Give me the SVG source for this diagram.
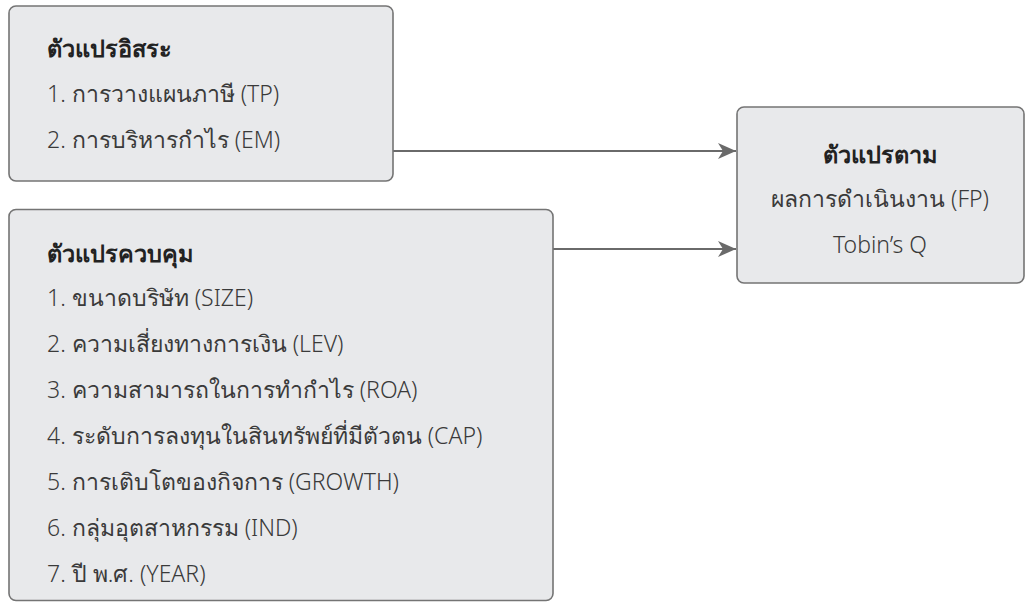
<svg xmlns="http://www.w3.org/2000/svg" width="1033" height="607" viewBox="0 0 1033 607">
<style>
.box{fill:#e8e9eb;stroke:#747474;stroke-width:1.6}
.t{font-family:"Noto Sans","DejaVu Sans",sans-serif;font-size:23px;font-weight:300;fill:#3a3a3a}
.h{font-weight:bold;font-size:23.5px;fill:#222}
.c{text-anchor:middle}
.ln{stroke:#6a6a6a;stroke-width:2;fill:none}
</style>
<defs>
<marker id="ah" viewBox="0 0 18 16" refX="18" refY="8" markerWidth="18" markerHeight="16" markerUnits="userSpaceOnUse" orient="auto">
<path d="M0,0 L18,8 L0,16 L5,8 Z" fill="#6a6a6a"/>
</marker>
</defs>
<g id="connectors">
<line class="ln" x1="393" y1="151" x2="736" y2="151" marker-end="url(#ah)"/>
<line class="ln" x1="553" y1="249" x2="736" y2="249" marker-end="url(#ah)"/>
</g>
<g id="independent">
<rect class="box" x="9" y="6" width="384" height="175" rx="7"/>
<text class="t h" x="47" y="57">ตัวแปรอิสระ</text>
<text class="t" x="47" y="102">1. การวางแผนภาษี (TP)</text>
<text class="t" x="47" y="148">2. การบริหารกำไร (EM)</text>
</g>
<g id="control">
<rect class="box" x="9" y="209.5" width="544" height="391" rx="7"/>
<text class="t h" x="47" y="262">ตัวแปรควบคุม</text>
<text class="t" x="47" y="306">1. ขนาดบริษัท (SIZE)</text>
<text class="t" x="47" y="352">2. ความเสี่ยงทางการเงิน (LEV)</text>
<text class="t" x="47" y="398">3. ความสามารถในการทำกำไร (ROA)</text>
<text class="t" x="47" y="444">4. ระดับการลงทุนในสินทรัพย์ที่มีตัวตน (CAP)</text>
<text class="t" x="47" y="490">5. การเติบโตของกิจการ (GROWTH)</text>
<text class="t" x="47" y="536">6. กลุ่มอุตสาหกรรม (IND)</text>
<text class="t" x="47" y="582">7. ปี พ.ศ. (YEAR)</text>
</g>
<g id="dependent">
<rect class="box" x="737" y="107" width="287" height="176" rx="7"/>
<text class="t h c" x="880" y="163">ตัวแปรตาม</text>
<text class="t c" x="880" y="207">ผลการดำเนินงาน (FP)</text>
<text class="t c" x="880" y="253">Tobin’s Q</text>
</g>
</svg>
